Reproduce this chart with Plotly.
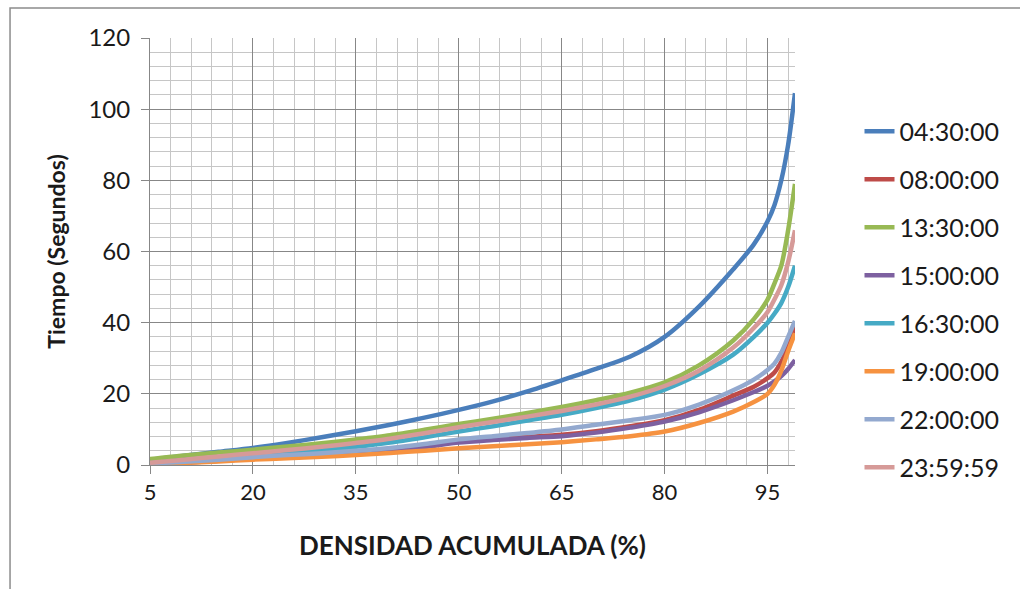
import plotly.graph_objects as go

# Cumulative density (%) sampled along each curve
densidad = [5, 10, 15, 20, 25, 30, 35, 40, 45, 50, 55, 60, 65, 70, 75, 80,
            85, 90, 93, 95, 96, 97, 98, 99]

# Travel time (seconds) per time-of-day series
t_0430 = [1.5, 2.6, 3.7, 4.8, 6.2, 7.8, 9.5, 11.3, 13.3, 15.5, 17.9, 20.7,
          23.8, 27.0, 30.5, 36.0, 44.5, 55.0, 62.0, 68.5, 73.0, 80.0, 90.0, 104.5]
t_0800 = [0.3, 0.7, 1.2, 1.8, 2.4, 2.9, 3.6, 4.4, 5.4, 6.6, 7.3, 7.9,
          8.5, 9.5, 10.9, 12.6, 15.5, 19.5, 22.0, 24.4, 26.0, 29.0, 33.5, 39.0]
t_1330 = [1.7, 2.7, 3.5, 4.3, 5.2, 6.1, 7.2, 8.4, 9.9, 11.5, 13.0, 14.6,
          16.3, 18.2, 20.3, 23.2, 28.0, 35.0, 41.0, 46.5, 51.0, 56.0, 66.0, 79.0]
t_1500 = [0.3, 0.7, 1.2, 1.8, 2.4, 2.9, 3.5, 4.2, 5.1, 6.3, 7.0, 7.6,
          8.1, 9.1, 10.5, 12.2, 14.8, 18.2, 20.5, 22.3, 23.5, 25.0, 27.0, 29.5]
t_1630 = [0.5, 1.2, 1.9, 2.6, 3.3, 4.1, 5.1, 6.3, 7.8, 9.4, 10.9, 12.5,
          14.1, 16.0, 18.2, 21.2, 25.5, 31.0, 36.0, 40.0, 42.5, 45.5, 50.0, 56.0]
t_1900 = [0.2, 0.6, 1.0, 1.5, 1.9, 2.3, 2.8, 3.4, 4.0, 4.7, 5.3, 5.8,
          6.4, 7.2, 8.1, 9.4, 11.8, 15.0, 17.7, 20.0, 22.5, 26.5, 32.0, 37.0]
t_2200 = [0.4, 0.9, 1.5, 2.2, 2.8, 3.3, 4.0, 4.8, 5.9, 7.2, 8.1, 9.0,
          10.0, 11.3, 12.6, 14.1, 17.0, 21.0, 24.0, 26.7, 28.5, 31.5, 36.0, 40.5]
t_2359 = [0.6, 1.5, 2.4, 3.3, 4.2, 5.1, 6.2, 7.4, 8.9, 10.6, 12.1, 13.6,
          15.2, 17.0, 19.2, 22.2, 26.5, 33.0, 38.5, 43.0, 46.5, 50.5, 57.0, 66.0]

series_names = ["04:30:00", "08:00:00", "13:30:00", "15:00:00",
                "16:30:00", "19:00:00", "22:00:00", "23:59:59"]
series_values = [t_0430, t_0800, t_1330, t_1500, t_1630, t_1900, t_2200, t_2359]
series_colors = ["#4A7EBB", "#BE4B48", "#98B954", "#7D60A0",
                 "#46AAC5", "#F69240", "#93A9CF", "#D69A98"]

x_ticks = [5, 20, 35, 50, 65, 80, 95]

FONT = "Lato, 'Open Sans', sans-serif"
TEXT = "#1a1a1a"
GRID_MAJOR = "#878787"
GRID_MINOR = "#C6C6C6"

fig = go.Figure()

for name, vals, col in zip(series_names, series_values, series_colors):
    fig.add_trace(go.Scatter(
        x=densidad, y=vals, name=name, mode="lines",
        line=dict(color=col, width=4.5, shape="spline", smoothing=0.8),
        legendgroup=name,
    ))

fig.update_layout(
    width=1020, height=589,
    margin=dict(l=150, r=225, t=38, b=124, autoexpand=False),
    paper_bgcolor="white", plot_bgcolor="white",
    font=dict(family=FONT, size=22, color=TEXT),
    showlegend=True,
    legend=dict(
        x=1.10, xanchor="left", y=0.835, yanchor="top",
        font=dict(family=FONT, size=25, color=TEXT),
        tracegroupgap=12.5, bgcolor="rgba(0,0,0,0)",
    ),
    xaxis=dict(
        range=[5, 99], tickmode="array", tickvals=x_ticks,
        ticktext=[str(v) for v in x_ticks],
        showgrid=True, gridcolor=GRID_MAJOR, gridwidth=1,
        showline=True, linecolor=GRID_MAJOR, linewidth=1,
        ticks="outside", ticklen=8, tickcolor=GRID_MAJOR,
        zeroline=False,
        minor=dict(tick0=5, dtick=3, showgrid=True, gridcolor=GRID_MINOR,
                   gridwidth=1),
        title=dict(text="<b>DENSIDAD ACUMULADA (%)</b>", standoff=32,
                   font=dict(family=FONT, size=26, color=TEXT)),
        tickfont=dict(family=FONT, size=22, color=TEXT),
    ),
    yaxis=dict(
        range=[0, 120], tick0=0, dtick=20,
        showgrid=True, gridcolor=GRID_MAJOR, gridwidth=1,
        showline=True, linecolor=GRID_MAJOR, linewidth=1,
        ticks="outside", ticklen=8, tickcolor=GRID_MAJOR,
        ticklabelstandoff=6,
        zeroline=False,
        minor=dict(dtick=4, showgrid=True, gridcolor=GRID_MINOR, gridwidth=1),
        title=dict(text="<b>Tiempo (Segundos)</b>", standoff=16,
                   font=dict(family=FONT, size=23, color=TEXT)),
        tickfont=dict(family=FONT, size=24, color=TEXT),
    ),
    shapes=[
        # outer chart-area frame
        dict(type="rect", xref="paper", yref="paper",
             x0=-0.217, x1=1.4, y0=-0.4, y1=1.0703,
             line=dict(color="#8C8C8C", width=1.5), layer="below"),
    ],
)

fig.write_html("out.html")
